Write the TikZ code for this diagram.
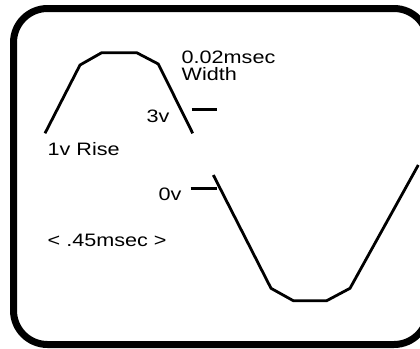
\documentclass[tikz,border=0pt]{standalone}
\usepackage{fontspec}
\setmainfont[FakeStretch=1.2]{Liberation Sans}
\begin{document}
\begin{tikzpicture}[x=1pt,y=-1pt,
  lbl/.style={anchor=base west,inner sep=0pt,font=\fontsize{18}{15}\selectfont},
  wave/.style={line width=2.8pt,line join=miter},
  tick/.style={line width=3.2pt},
  frame/.style={line width=7pt,rounded corners=34pt}]
\useasboundingbox (0,0) rectangle (420,348);
\fill[white] (0,0) rectangle (420,348);
\begin{scope}
\clip (0,0) rectangle (420,348);
% frame (its right side lies beyond the picture's edge)
\draw[frame] (428,80) -- (428,8.5) -- (13.5,8.5) -- (13.5,344.5) -- (428,344.5) -- (428,270);
\end{scope}
% upper pulse
\draw[wave] (45,133.3) -- (80,65) -- (101.7,52.7) -- (136.7,52.7) -- (158.3,64) -- (192.7,133.3);
% lower trough
\draw[wave] (213.3,175) -- (271,288.3) -- (293.3,300.7) -- (326.7,300.7) -- (350,288.3) -- (418.3,165);
% level ticks
\coordinate (t3a) at (191.5,109.5);
\coordinate (t3b) at (216.5,109.5);
\coordinate (t0a) at (190.5,188.5);
\coordinate (t0b) at (216.5,188.5);
\draw[tick] (t3a) -- (t3b);
\draw[tick] (t0a) -- (t0b);
% labels
\node[lbl] (w1) at (181.5,63.5) {0.02msec};
\node[lbl] (w2) at (181.5,80) {Width};
\node[lbl] (v3) at (146.5,122) {3v};
\node[lbl] (rise) at (47.5,155) {1v Rise};
\node[lbl] (v0) at (158.5,200) {0v};
\node[lbl] (per) at (47.5,246) {< .45msec >};
\end{tikzpicture}
\end{document}
